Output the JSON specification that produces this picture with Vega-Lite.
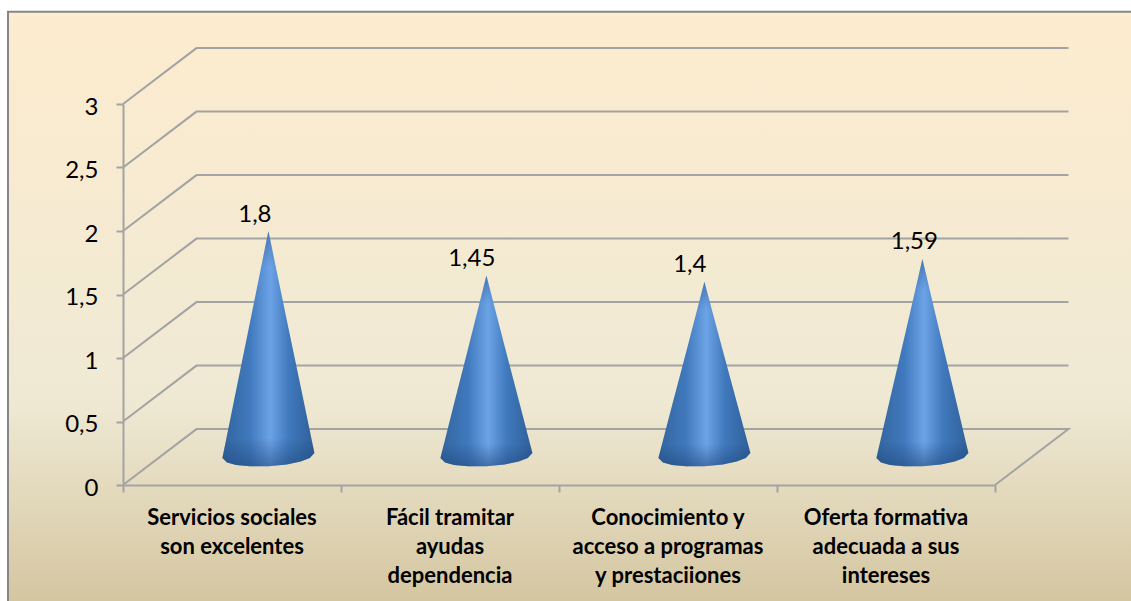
{
"$schema":"https://vega.github.io/schema/vega-lite/v6.json",
"width":872,"height":381,
"autosize":"none",
"padding":{"left":123,"top":104,"right":136,"bottom":116},
"background":"#ffffff",
"config":{"view":{"stroke":null},"font":"Lato"},
"datasets":{
"panel":[{"x":-0.5275,"x2":4.7,"y":3.726,"y2":-1}],
"grid":[
{"level":0,"o":1,"x":0,"y":0},{"level":0,"o":2,"x":0.337,"y":0.44},{"level":0,"o":3,"x":4.337,"y":0.44},{"level":0,"o":4,"x":4,"y":0},
{"level":0.5,"o":1,"x":0,"y":0.5},{"level":0.5,"o":2,"x":0.337,"y":0.94},{"level":0.5,"o":3,"x":4.337,"y":0.94},
{"level":1,"o":1,"x":0,"y":1},{"level":1,"o":2,"x":0.337,"y":1.44},{"level":1,"o":3,"x":4.337,"y":1.44},
{"level":1.5,"o":1,"x":0,"y":1.5},{"level":1.5,"o":2,"x":0.337,"y":1.94},{"level":1.5,"o":3,"x":4.337,"y":1.94},
{"level":2,"o":1,"x":0,"y":2},{"level":2,"o":2,"x":0.337,"y":2.44},{"level":2,"o":3,"x":4.337,"y":2.44},
{"level":2.5,"o":1,"x":0,"y":2.5},{"level":2.5,"o":2,"x":0.337,"y":2.94},{"level":2.5,"o":3,"x":4.337,"y":2.94},
{"level":3,"o":1,"x":0,"y":3},{"level":3,"o":2,"x":0.337,"y":3.44},{"level":3,"o":3,"x":4.337,"y":3.44}
],
"cones":[
{"cat":"A","x":0.456,"top":0.213,"bottom":0.213},{"cat":"A","x":0.477,"top":0.392,"bottom":0.178},{"cat":"A","x":0.519,"top":0.749,"bottom":0.158},{"cat":"A","x":0.583,"top":1.285,"bottom":0.147},{"cat":"A","x":0.667,"top":2.0,"bottom":0.1475},{"cat":"A","x":0.751,"top":1.301,"bottom":0.162},{"cat":"A","x":0.815,"top":0.776,"bottom":0.186},{"cat":"A","x":0.857,"top":0.427,"bottom":0.213},{"cat":"A","x":0.878,"top":0.252,"bottom":0.252},
{"cat":"B","x":1.456,"top":0.213,"bottom":0.213},{"cat":"B","x":1.477,"top":0.357,"bottom":0.178},{"cat":"B","x":1.519,"top":0.644,"bottom":0.158},{"cat":"B","x":1.583,"top":1.075,"bottom":0.147},{"cat":"B","x":1.667,"top":1.65,"bottom":0.1475},{"cat":"B","x":1.751,"top":1.091,"bottom":0.162},{"cat":"B","x":1.815,"top":0.671,"bottom":0.186},{"cat":"B","x":1.857,"top":0.392,"bottom":0.213},{"cat":"B","x":1.878,"top":0.252,"bottom":0.252},
{"cat":"C","x":2.456,"top":0.213,"bottom":0.213},{"cat":"C","x":2.477,"top":0.352,"bottom":0.178},{"cat":"C","x":2.519,"top":0.629,"bottom":0.158},{"cat":"C","x":2.583,"top":1.045,"bottom":0.147},{"cat":"C","x":2.667,"top":1.6,"bottom":0.1475},{"cat":"C","x":2.751,"top":1.061,"bottom":0.162},{"cat":"C","x":2.815,"top":0.656,"bottom":0.186},{"cat":"C","x":2.857,"top":0.387,"bottom":0.213},{"cat":"C","x":2.878,"top":0.252,"bottom":0.252},
{"cat":"D","x":3.456,"top":0.213,"bottom":0.213},{"cat":"D","x":3.477,"top":0.37,"bottom":0.178},{"cat":"D","x":3.519,"top":0.683,"bottom":0.158},{"cat":"D","x":3.583,"top":1.153,"bottom":0.147},{"cat":"D","x":3.667,"top":1.78,"bottom":0.1475},{"cat":"D","x":3.751,"top":1.169,"bottom":0.162},{"cat":"D","x":3.815,"top":0.71,"bottom":0.186},{"cat":"D","x":3.857,"top":0.405,"bottom":0.213},{"cat":"D","x":3.878,"top":0.252,"bottom":0.252}
],
"values":[
{"label":"1,8","x":0.605,"y":2.125},
{"label":"1,45","x":1.6,"y":1.78},
{"label":"1,4","x":2.6,"y":1.735},
{"label":"1,59","x":3.63,"y":1.915}
],
"cats":[
{"label":"Servicios sociales\nson excelentes","x":0.5,"y":-0.18},
{"label":"Fácil tramitar\nayudas\ndependencia","x":1.5,"y":-0.18},
{"label":"Conocimiento y\nacceso a programas\ny prestaciiones","x":2.5,"y":-0.18},
{"label":"Oferta formativa\nadecuada a sus\nintereses","x":3.5,"y":-0.18}
]
},
"encoding":{
"x":{"field":"x","type":"quantitative","scale":{"domain":[0,4],"nice":false,"zero":false},
"axis":{"title":null,"values":[0,1,2,3,4],"labels":false,"grid":false,"domainColor":"#a3a3a3","domainWidth":2,"tickColor":"#a3a3a3","tickWidth":2,"tickSize":7,"zindex":1}},
"y":{"field":"y","type":"quantitative","scale":{"domain":[0,3],"nice":false,"zero":false},
"axis":{"title":null,"values":[0,0.5,1,1.5,2,2.5,3],"grid":false,"labelExpr":"replace(format(datum.value,'.1~f'),'.',',')","labelFont":"Lato","labelFontSize":24,"labelColor":"#000000","labelPadding":18,"labelOffset":3,"domainColor":"#a3a3a3","domainWidth":2,"tickColor":"#a3a3a3","tickWidth":2,"tickSize":7,"zindex":1}}
},
"layer":[
{"data":{"name":"panel"},
"mark":{"type":"rect","stroke":"#868686","strokeWidth":2,"fill":{"gradient":"linear","x1":0,"y1":0,"x2":0,"y2":1,"stops":[{"offset":0,"color":"#fdeccf"},{"offset":0.65,"color":"#efe9d4"},{"offset":1,"color":"#d3c49e"}]}},
"encoding":{"x2":{"field":"x2"},"y2":{"field":"y2"}}},
{"data":{"name":"grid"},
"mark":{"type":"line","stroke":"#a3a3a3","strokeWidth":2,"clip":false},
"encoding":{"detail":{"field":"level"},"order":{"field":"o"}}},
{"data":{"name":"cones"},
"mark":{"type":"area","clip":false,"fill":{"gradient":"linear","x1":0,"y1":0,"x2":1,"y2":0,"stops":[{"offset":0,"color":"#33659f"},{"offset":0.3,"color":"#4079bd"},{"offset":0.52,"color":"#6ca3e6"},{"offset":0.72,"color":"#4079bd"},{"offset":1,"color":"#2f5f98"}]}},
"encoding":{"y":{"field":"top","type":"quantitative"},"y2":{"field":"bottom"},"detail":{"field":"cat"}}},
{"data":{"name":"cones"},
"mark":{"type":"area","clip":false,"fill":{"gradient":"linear","x1":0,"y1":0,"x2":0,"y2":1,"stops":[{"offset":0,"color":"rgba(40,80,130,0.5)"},{"offset":0.15,"color":"rgba(40,80,130,0)"},{"offset":0.88,"color":"rgba(30,70,120,0)"},{"offset":1,"color":"rgba(30,70,120,0.55)"}]}},
"encoding":{"y":{"field":"top","type":"quantitative"},"y2":{"field":"bottom"},"detail":{"field":"cat"}}},
{"data":{"name":"values"},
"mark":{"type":"text","fontSize":24,"font":"Lato","color":"#000000","baseline":"middle","align":"center"},
"encoding":{"text":{"field":"label"}}},
{"data":{"name":"cats"},
"mark":{"type":"text","fontSize":22,"font":"Lato","fontWeight":"bold","color":"#000000","baseline":"top","align":"center","lineBreak":"\n","lineHeight":29},
"encoding":{"text":{"field":"label"}}}
]
}
